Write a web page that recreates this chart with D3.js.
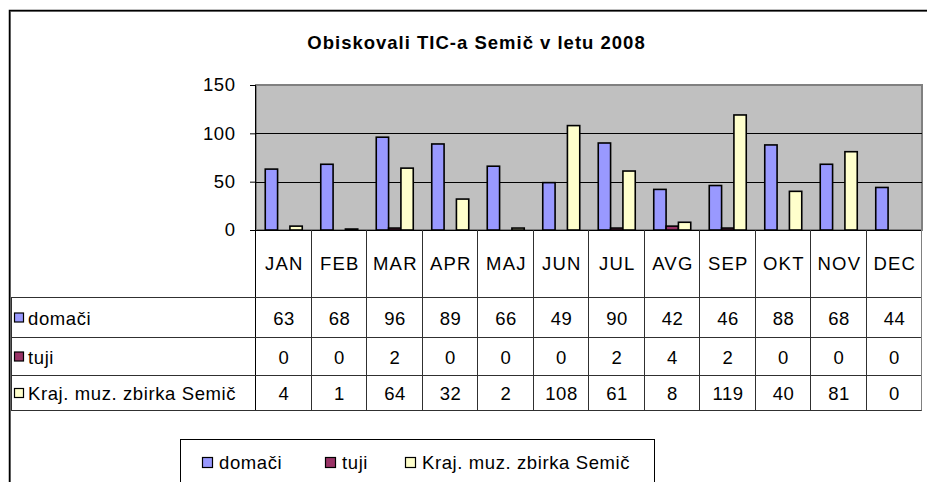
<!DOCTYPE html>
<html><head><meta charset="utf-8">
<script src="https://cdn.jsdelivr.net/npm/d3@7"></script>
<style>
html,body{margin:0;padding:0;background:#fff;}
svg{display:block;font-family:"Liberation Sans",Arial,sans-serif;}
</style></head>
<body>
<svg id="c" width="927" height="482"></svg>
<script>
const title = "Obiskovali TIC-a Semič v letu 2008";
const months = ["JAN","FEB","MAR","APR","MAJ","JUN","JUL","AVG","SEP","OKT","NOV","DEC"];
const seriesNames = ["domači","tuji","Kraj. muz. zbirka Semič"];
const domaci = [63,68,96,89,66,49,90,42,46,88,68,44];
const tuji = [0,0,2,0,0,0,2,4,2,0,0,0];
const kraj = [4,1,64,32,2,108,61,8,119,40,81,0];
const yTicks = [0,50,100,150];
const colors = ["#9999FF","#993366","#FFFFCC"];

const seriesValues = [domaci, tuji, kraj];
const svg = d3.select("#c");
const FS = 18.5, LS = 0.6;

// outer frame
svg.append("rect").attr("x",10.5).attr("y",11.5).attr("width",940).attr("height",500)
  .attr("fill","none").attr("stroke","#808080").attr("stroke-width",1);
svg.append("rect").attr("x",9.5).attr("y",10.5).attr("width",940).attr("height",500)
  .attr("fill","none").attr("stroke","#000").attr("stroke-width",1.5);

// title
svg.append("text").attr("x",476).attr("y",49).attr("text-anchor","middle")
  .attr("font-size",18.5).attr("font-weight","bold").attr("letter-spacing",1).attr("dx",0.5).text(title);

const pLeft = 256, pRight = 922, pTop = 85, pZero = 230;
const x0 = d3.scaleBand().domain(months).range([pLeft,pRight]).paddingInner(0).paddingOuter(0);
const x1 = d3.scaleBand().domain(seriesNames).range([0,x0.bandwidth()]).paddingInner(0).paddingOuter(0.75);
const y = d3.scaleLinear().domain([0,150]).range([pZero,pTop]);

// plot area
svg.append("rect").attr("x",pLeft).attr("y",pTop).attr("width",pRight-pLeft).attr("height",pZero-pTop)
  .attr("fill","#C0C0C0").attr("stroke","#808080").attr("stroke-width",2);
// grid
svg.append("g").selectAll("line").data(yTicks.filter(t=>t>0&&t<150)).join("line")
  .attr("x1",pLeft).attr("x2",pRight).attr("y1",d=>Math.round(y(d))+0.5).attr("y2",d=>Math.round(y(d))+0.5)
  .attr("stroke","#000").attr("stroke-width",1);

// bars
const g = svg.append("g");
seriesValues.forEach((vals,si)=>{
  g.append("g").selectAll("rect").data(months.map((m,i)=>({m,v:vals[i]})).filter(d=>d.v>0)).join("rect")
    .attr("x",d=>x0(d.m)+x1(seriesNames[si]))
    .attr("y",d=>y(d.v))
    .attr("width",x1.bandwidth())
    .attr("height",d=>pZero-y(d.v))
    .attr("fill",colors[si]).attr("stroke","#000").attr("stroke-width",1.6);
});

// y axis
const ya = svg.append("g").attr("transform",`translate(${pLeft},0)`)
  .call(d3.axisLeft(y).tickValues(yTicks).tickSize(6).tickPadding(15));
ya.select(".domain").remove();
ya.selectAll(".tick line").attr("stroke","#000");
ya.selectAll("text").attr("font-size",FS).attr("fill","#000").attr("letter-spacing",LS)
  .attr("dx",LS).attr("font-family","Liberation Sans, Arial, sans-serif");

// axis lines
svg.append("line").attr("x1",pLeft-6).attr("x2",pRight).attr("y1",pZero+0.5).attr("y2",pZero+0.5).attr("stroke","#000");
svg.append("line").attr("x1",pLeft-0.5).attr("x2",pLeft-0.5).attr("y1",pTop).attr("y2",411).attr("stroke","#000");

// data table
const rowLines = [297.5,337.5,375.5,410.5];
const tl = "#303030";
const tg = svg.append("g");
rowLines.forEach(yy=>{
  tg.append("line").attr("x1",11).attr("x2",pRight).attr("y1",yy).attr("y2",yy).attr("stroke",tl);
});
tg.append("line").attr("x1",11.5).attr("x2",11.5).attr("y1",297.5).attr("y2",410.5).attr("stroke",tl);
tg.selectAll("line.col").data(months).join("line").attr("class","col")
  .attr("x1",d=>Math.round(x0(d)+x0.bandwidth())-0.5).attr("x2",d=>Math.round(x0(d)+x0.bandwidth())-0.5)
  .attr("y1",pZero).attr("y2",410.5).attr("stroke",d=>d==="DEC"?"#808080":tl);

// month labels
tg.selectAll("text.m").data(months).join("text").attr("class","m")
  .attr("x",d=>x0(d)+x0.bandwidth()/2).attr("y",269.5).attr("text-anchor","middle")
  .attr("font-size",FS).attr("letter-spacing",1.2).attr("dx",0.6).text(d=>d);

// rows
const rowBase = [324.5,363.5,400];
seriesNames.forEach((s,si)=>{
  tg.append("rect").attr("x",14.5).attr("y",rowBase[si]-11.5).attr("width",9).attr("height",9)
    .attr("fill",colors[si]).attr("stroke","#000").attr("stroke-width",1.2);
  tg.append("text").attr("x",28).attr("y",rowBase[si]).attr("font-size",FS).attr("letter-spacing",LS).text(s);
  tg.append("g").selectAll("text").data(seriesValues[si]).join("text")
    .attr("x",(d,i)=>x0(months[i])+x0.bandwidth()/2).attr("y",rowBase[si])
    .attr("text-anchor","middle").attr("font-size",FS).attr("letter-spacing",LS).attr("dx",LS/2).text(d=>d);
});

// legend
svg.append("rect").attr("x",180.5).attr("y",439.5).attr("width",474).attr("height",80)
  .attr("fill","#fff").attr("stroke","#000").attr("stroke-width",1);
const legX = [202,325,405];
seriesNames.forEach((s,si)=>{
  svg.append("rect").attr("x",legX[si]+0.5).attr("y",457.5).attr("width",10).attr("height",10)
    .attr("fill",colors[si]).attr("stroke","#000").attr("stroke-width",1.2);
  svg.append("text").attr("x",legX[si]+17).attr("y",468.5).attr("font-size",FS).attr("letter-spacing",LS).text(s);
});
</script>
</body></html>
